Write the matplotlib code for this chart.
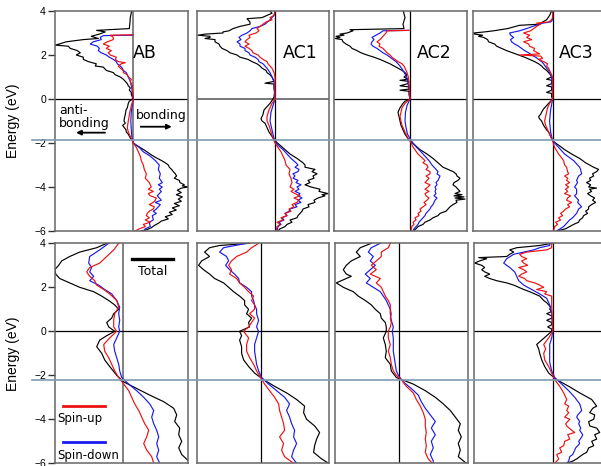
import numpy as np
import matplotlib
matplotlib.use("Agg")
import matplotlib.pyplot as plt
from matplotlib.lines import Line2D
from matplotlib import transforms

# ---- data: (energy eV, COHP-like value), per panel / curve ----
# top row
ab_top_total = [(4.0,-0.17),(3.7,-0.3),(3.5,-0.33),(3.2,-0.4),(3.12,-3.67),(3.05,-2.8),(2.95,-3.4),(2.85,-4.2),(2.75,-3.5),(2.7,-5.0),(2.6,-6.7),(2.5,-7.4),(2.45,-7.8),(2.4,-6.5),(2.3,-6.3),(2.2,-5.6),(2.1,-5.3),(2.0,-5.7),(1.9,-5.0),(1.8,-5.0),(1.7,-4.5),(1.6,-3.7),(1.5,-3.8),(1.45,-3.0),(1.3,-2.7),(1.2,-2.0),(1.1,-1.8),(1.0,-1.3),(0.9,-1.0),(0.8,-0.8),(0.7,-0.6),(0.6,-0.5),(0.5,-0.3),(0.4,-0.4),(0.3,-0.2),(0.2,-0.2),(0.1,-0.1),(0.0,-0.07),(-0.1,-0.4),(-0.2,-0.5),(-0.4,-0.6),(-0.5,-0.73),(-0.7,-0.8),(-0.9,-0.9),(-1.0,-0.93),(-1.1,-0.8),(-1.2,-1.07),(-1.3,-0.9),(-1.4,-0.73),(-1.5,-0.7),(-1.6,-0.5),(-1.8,-0.27),(-1.9,-0.1),(-2.0,0.0),(-2.1,0.3),(-2.2,0.67),(-2.35,1.2),(-2.5,1.67),(-2.65,2.2),(-2.8,2.83),(-2.9,3.2),(-3.0,3.5),(-3.1,3.6),(-3.2,3.83),(-3.3,4.0),(-3.4,4.2),(-3.5,4.33),(-3.6,4.1),(-3.7,4.6),(-3.8,4.67),(-3.9,5.1),(-3.95,4.9),(-4.0,5.5),(-4.05,4.8),(-4.15,4.4),(-4.25,4.8),(-4.35,4.3),(-4.45,4.9),(-4.55,4.5),(-4.65,4.8),(-4.75,4.1),(-4.85,4.6),(-4.95,3.9),(-5.05,4.3),(-5.15,3.6),(-5.25,3.9),(-5.35,3.2),(-5.45,3.5),(-5.55,2.8),(-5.65,2.5),(-5.75,2.1),(-5.85,1.8),(-5.95,1.3),(-6.0,0.8)]
ab_top_up = [(2.92,0.0),(2.9,-2.3),(2.8,-2.0),(2.7,-2.0),(2.6,-2.6),(2.5,-3.0),(2.4,-2.4),(2.3,-2.7),(2.2,-2.2),(2.1,-2.5),(2.0,-2.3),(1.9,-1.7),(1.8,-1.8),(1.7,-1.5),(1.65,-0.8),(1.6,-1.2),(1.5,-1.5),(1.4,-1.3),(1.3,-1.0),(1.2,-1.0),(1.1,-0.6),(1.0,-0.5),(0.9,-0.2),(0.8,-0.3),(0.6,-0.1),(0.3,-0.05),(0,0),(-0.3,-0.2),(-0.6,-0.35),(-1.0,-0.5),(-1.3,-0.6),(-1.5,-0.5),(-1.7,-0.3),(-1.9,-0.1),(-2.0,0.0),(-2.2,0.3),(-2.4,0.5),(-2.6,0.7),(-2.8,0.8),(-3.0,1.0),(-3.2,1.1),(-3.4,1.3),(-3.6,1.2),(-3.8,1.6),(-4.0,1.8),(-4.1,1.5),(-4.2,2.0),(-4.3,1.5),(-4.4,1.7),(-4.5,2.3),(-4.6,2.2),(-4.7,2.0),(-4.8,1.6),(-4.9,2.1),(-5.0,2.0),(-5.1,1.6),(-5.2,1.4),(-5.3,1.3),(-5.4,1.6),(-5.5,1.2),(-5.6,1.7),(-5.7,1.0),(-5.8,1.2),(-5.9,0.6),(-6.0,0.2)]
ab_top_down = [(2.9,-0.1),(2.88,-3.0),(2.8,-3.3),(2.7,-3.2),(2.6,-4.0),(2.5,-4.3),(2.4,-3.6),(2.3,-3.4),(2.2,-3.5),(2.1,-3.2),(2.0,-2.7),(1.9,-2.4),(1.8,-2.0),(1.7,-1.7),(1.6,-1.6),(1.5,-1.3),(1.4,-1.1),(1.3,-1.0),(1.2,-0.7),(1.0,-0.5),(0.8,-0.3),(0.5,-0.15),(0,0),(-0.3,-0.1),(-0.6,-0.2),(-1.0,-0.25),(-1.4,-0.2),(-1.7,-0.15),(-2.0,0.0),(-2.2,0.6),(-2.4,1.0),(-2.6,1.7),(-2.8,2.2),(-3.0,2.6),(-3.2,2.5),(-3.4,2.7),(-3.6,2.6),(-3.8,2.9),(-3.9,2.5),(-4.0,2.9),(-4.1,2.6),(-4.2,2.8),(-4.4,2.4),(-4.5,2.6),(-4.6,2.8),(-4.7,2.2),(-4.8,2.7),(-5.0,2.3),(-5.1,2.0),(-5.2,2.3),(-5.3,1.9),(-5.5,2.0),(-5.6,1.6),(-5.8,1.7),(-5.9,1.2),(-6.0,1.0)]

ac1_top_total = [(4.0,-0.5),(3.9,-0.3),(3.8,-0.8),(3.7,-1.3),(3.65,-2.8),(3.6,-2.7),(3.5,-2.5),(3.4,-2.5),(3.3,-3.5),(3.2,-4.2),(3.1,-4.6),(3.05,-5.2),(3.0,-5.2),(2.95,-7.0),(2.9,-7.7),(2.85,-6.5),(2.8,-6.5),(2.75,-7.0),(2.7,-6.0),(2.6,-6.0),(2.5,-5.6),(2.4,-5.5),(2.3,-5.3),(2.2,-4.8),(2.1,-4.5),(2.0,-3.8),(1.9,-3.5),(1.8,-2.7),(1.7,-2.3),(1.6,-1.8),(1.5,-1.5),(1.4,-1.3),(1.3,-0.9),(1.2,-0.8),(1.1,-0.5),(1.0,-0.3),(0.9,-0.2),(0.8,-0.1),(0.72,-1.0),(0.68,-0.1),(0.5,-0.1),(0.3,-0.05),(0.1,-0.1),(0.0,-0.2),(-0.2,-0.5),(-0.3,-0.7),(-0.5,-1.1),(-0.7,-1.2),(-0.9,-1.4),(-1.0,-1.3),(-1.1,-1.0),(-1.3,-0.8),(-1.5,-0.6),(-1.7,-0.3),(-1.9,0.0),(-2.1,0.5),(-2.3,1.0),(-2.5,1.5),(-2.7,2.2),(-2.9,2.8),(-3.0,3.0),(-3.1,3.0),(-3.2,4.0),(-3.3,3.7),(-3.4,4.2),(-3.5,3.8),(-3.6,3.9),(-3.7,3.3),(-3.8,3.5),(-3.9,3.0),(-4.0,3.6),(-4.1,4.5),(-4.2,4.4),(-4.3,5.3),(-4.35,4.7),(-4.4,5.0),(-4.5,4.3),(-4.6,3.9),(-4.7,4.0),(-4.8,3.3),(-4.9,3.4),(-5.0,2.8),(-5.1,2.7),(-5.2,2.5),(-5.3,2.3),(-5.4,2.2),(-5.5,1.5),(-5.6,1.7),(-5.7,1.2),(-5.8,1.0),(-5.9,0.5),(-6.0,0.3)]
ac1_top_up = [(4.0,0.0),(3.8,-0.1),(3.7,-0.5),(3.6,-0.3),(3.5,-0.9),(3.4,-1.2),(3.3,-1.5),(3.2,-1.8),(3.1,-1.6),(3.0,-1.9),(2.9,-2.6),(2.8,-2.5),(2.7,-2.8),(2.6,-3.0),(2.5,-2.6),(2.4,-3.0),(2.3,-2.6),(2.2,-2.3),(2.1,-2.2),(2.0,-1.7),(1.9,-1.5),(1.8,-1.2),(1.7,-0.8),(1.6,-0.7),(1.5,-0.5),(1.4,-0.3),(1.2,-0.1),(1.0,0.0),(0,0),(-0.2,-0.3),(-0.5,-0.6),(-0.8,-0.8),(-1.0,-0.8),(-1.2,-0.6),(-1.5,-0.4),(-1.8,-0.2),(-2.0,0.0),(-2.2,0.3),(-2.4,0.6),(-2.6,0.8),(-2.8,1.0),(-3.0,1.1),(-3.2,1.5),(-3.4,1.4),(-3.6,1.6),(-3.8,1.7),(-4.0,1.5),(-4.1,1.9),(-4.2,1.6),(-4.3,2.0),(-4.4,2.5),(-4.5,1.9),(-4.6,2.4),(-4.7,2.2),(-4.8,1.7),(-4.9,1.9),(-5.0,1.4),(-5.1,1.6),(-5.2,1.0),(-5.3,1.2),(-5.4,0.6),(-5.5,0.8),(-5.6,0.2),(-5.7,0.5),(-5.8,0.2),(-6.0,0.1)]
ac1_top_down = [(4.0,0.0),(3.8,-0.1),(3.6,-0.5),(3.4,-1.0),(3.3,-1.5),(3.2,-2.3),(3.1,-2.5),(3.0,-2.8),(2.9,-3.3),(2.8,-3.6),(2.7,-3.4),(2.6,-3.8),(2.5,-3.5),(2.4,-3.5),(2.3,-3.0),(2.2,-3.0),(2.1,-2.6),(2.0,-2.5),(1.9,-2.0),(1.8,-1.7),(1.7,-1.6),(1.6,-1.2),(1.5,-1.0),(1.4,-0.8),(1.2,-0.5),(1.0,-0.3),(0.8,-0.1),(0,0),(-0.3,-0.2),(-0.6,-0.4),(-1.0,-0.5),(-1.3,-0.35),(-1.6,-0.2),(-1.9,-0.05),(-2.1,0.3),(-2.3,0.8),(-2.5,1.2),(-2.7,1.6),(-2.9,2.1),(-3.0,2.3),(-3.1,2.0),(-3.2,2.4),(-3.3,2.3),(-3.4,1.8),(-3.5,2.0),(-3.6,1.8),(-3.7,2.3),(-3.8,2.1),(-3.9,2.6),(-4.0,2.2),(-4.1,2.4),(-4.2,2.0),(-4.3,2.5),(-4.4,2.3),(-4.5,2.7),(-4.6,2.3),(-4.7,2.6),(-4.8,2.0),(-4.9,2.2),(-5.0,1.5),(-5.1,1.4),(-5.2,1.0),(-5.3,1.2),(-5.4,0.7),(-5.5,0.9),(-5.6,0.4),(-5.7,0.6),(-5.8,0.3),(-6.0,0.2)]

ac2_top_total = [(4.0,-0.67),(3.7,-0.5),(3.4,-0.7),(3.2,-0.6),(3.15,-6.0),(3.1,-5.7),(3.0,-6.3),(2.95,-7.0),(2.9,-6.6),(2.85,-7.4),(2.8,-7.0),(2.75,-7.5),(2.7,-6.8),(2.6,-6.7),(2.5,-6.4),(2.4,-6.0),(2.3,-5.8),(2.2,-5.3),(2.1,-4.9),(2.0,-4.3),(1.9,-3.6),(1.8,-3.0),(1.7,-2.5),(1.6,-2.0),(1.5,-1.6),(1.4,-1.2),(1.3,-0.8),(1.2,-0.5),(1.1,-0.3),(1.0,-0.6),(0.9,-0.2),(0.85,-1.0),(0.8,-0.1),(0.7,-0.2),(0.6,-1.0),(0.55,-0.1),(0.45,-0.1),(0.4,-1.0),(0.35,-0.1),(0.2,-0.1),(0.0,0.0),(-0.1,-0.5),(-0.2,-0.7),(-0.4,-1.0),(-0.6,-1.2),(-0.8,-1.1),(-1.0,-1.0),(-1.2,-0.9),(-1.4,-0.7),(-1.6,-0.5),(-1.8,-0.2),(-1.9,0.0),(-2.1,0.5),(-2.3,1.0),(-2.5,1.7),(-2.7,2.3),(-2.9,2.8),(-3.1,3.3),(-3.3,4.3),(-3.4,4.6),(-3.5,4.7),(-3.6,5.0),(-3.7,4.8),(-3.8,4.4),(-3.9,4.3),(-4.0,4.6),(-4.1,4.8),(-4.2,5.0),(-4.3,4.5),(-4.35,5.2),(-4.4,4.4),(-4.45,5.4),(-4.5,4.5),(-4.55,5.5),(-4.6,4.6),(-4.7,4.7),(-4.8,4.3),(-4.9,4.0),(-5.0,3.8),(-5.1,3.6),(-5.2,3.0),(-5.3,2.8),(-5.4,2.3),(-5.5,2.0),(-5.6,1.5),(-5.7,1.3),(-5.8,0.8),(-5.9,0.6),(-6.0,0.3)]
ac2_top_up = [(3.12,-0.1),(3.1,-2.3),(3.0,-2.4),(2.9,-2.6),(2.8,-2.8),(2.7,-3.0),(2.6,-3.3),(2.5,-3.0),(2.4,-3.1),(2.3,-2.7),(2.2,-2.5),(2.1,-2.3),(2.0,-2.0),(1.9,-1.8),(1.8,-1.5),(1.7,-1.2),(1.6,-0.8),(1.5,-0.6),(1.4,-0.5),(1.2,-0.3),(1.0,-0.17),(0.5,-0.05),(0,0),(-0.2,-0.5),(-0.4,-0.8),(-0.6,-0.9),(-0.8,-1.0),(-1.0,-0.9),(-1.2,-0.8),(-1.4,-0.6),(-1.6,-0.4),(-1.8,-0.2),(-1.9,0.0),(-2.2,0.33),(-2.5,0.8),(-2.8,1.5),(-2.9,1.3),(-3.0,1.7),(-3.1,1.8),(-3.2,1.6),(-3.3,2.0),(-3.4,2.0),(-3.5,1.6),(-3.6,1.9),(-3.7,1.7),(-3.8,1.5),(-3.9,2.0),(-4.0,1.8),(-4.1,1.5),(-4.2,1.9),(-4.3,1.5),(-4.4,1.6),(-4.5,1.9),(-4.6,1.7),(-4.7,1.4),(-4.8,1.6),(-4.9,1.3),(-5.0,1.0),(-5.1,1.1),(-5.2,0.8),(-5.3,0.9),(-5.4,0.5),(-5.5,0.6),(-5.6,0.3),(-5.7,0.4),(-5.8,0.17),(-6.0,0.1)]
ac2_top_down = [(3.12,-0.1),(3.1,-2.7),(3.0,-3.0),(2.9,-3.4),(2.8,-3.8),(2.7,-3.6),(2.6,-3.8),(2.5,-3.9),(2.4,-3.7),(2.3,-3.3),(2.2,-3.0),(2.1,-2.7),(2.0,-2.3),(1.9,-2.0),(1.8,-1.7),(1.7,-1.4),(1.6,-1.2),(1.5,-1.0),(1.3,-0.7),(1.0,-0.33),(0.5,-0.1),(0,0),(-0.3,-0.3),(-0.6,-0.45),(-1.0,-0.5),(-1.3,-0.4),(-1.6,-0.25),(-1.8,0.0),(-2.0,0.3),(-2.2,0.67),(-2.4,1.1),(-2.6,1.5),(-2.8,1.9),(-3.0,2.2),(-3.2,2.6),(-3.3,2.8),(-3.4,2.7),(-3.5,3.0),(-3.6,2.9),(-3.7,2.8),(-3.8,2.6),(-3.9,2.7),(-4.0,2.5),(-4.1,2.6),(-4.2,2.5),(-4.3,2.6),(-4.4,2.4),(-4.5,2.7),(-4.6,2.5),(-4.7,2.4),(-4.8,2.3),(-4.9,2.1),(-5.0,2.0),(-5.1,1.8),(-5.2,1.6),(-5.3,1.5),(-5.4,1.3),(-5.5,1.1),(-5.6,0.9),(-5.7,0.8),(-5.8,0.6),(-5.9,0.4),(-6.0,0.33)]

ac3_top_total = [(4.0,-0.1),(3.8,-0.3),(3.6,-0.6),(3.5,-1.0),(3.4,-1.3),(3.35,-3.3),(3.3,-3.7),(3.2,-4.5),(3.1,-5.9),(3.05,-6.8),(3.0,-7.9),(2.95,-7.8),(2.9,-7.0),(2.85,-7.4),(2.8,-6.9),(2.7,-6.5),(2.6,-6.4),(2.5,-5.8),(2.4,-5.6),(2.3,-5.1),(2.2,-4.6),(2.1,-4.0),(2.0,-3.4),(1.9,-2.8),(1.8,-2.3),(1.7,-1.8),(1.6,-1.4),(1.5,-1.1),(1.4,-0.9),(1.3,-0.6),(1.2,-0.4),(1.1,-0.2),(1.0,-0.1),(0.9,-0.6),(0.85,-0.1),(0.7,-0.1),(0.6,-0.6),(0.55,-0.1),(0.4,-0.1),(0.3,-0.6),(0.25,-0.1),(0.1,-0.1),(0.0,0.0),(-0.15,-0.3),(-0.3,-0.6),(-0.45,-0.9),(-0.6,-1.1),(-0.7,-1.2),(-0.8,-1.4),(-0.9,-1.3),(-1.0,-1.1),(-1.2,-0.9),(-1.4,-0.6),(-1.5,-0.4),(-1.7,-0.2),(-1.8,-0.1),(-1.9,0.0),(-2.1,0.6),(-2.3,1.2),(-2.5,1.9),(-2.7,2.7),(-2.9,3.3),(-3.0,3.7),(-3.1,4.1),(-3.2,4.6),(-3.3,4.4),(-3.4,4.0),(-3.5,4.1),(-3.6,3.7),(-3.7,3.8),(-3.8,3.4),(-3.9,3.8),(-4.0,3.6),(-4.05,4.4),(-4.1,3.7),(-4.2,3.9),(-4.3,3.5),(-4.4,3.8),(-4.5,4.2),(-4.6,4.0),(-4.7,4.3),(-4.8,3.9),(-4.9,3.6),(-5.0,3.6),(-5.1,3.3),(-5.2,3.5),(-5.3,3.1),(-5.4,3.0),(-5.5,2.7),(-5.6,2.6),(-5.7,2.1),(-5.8,1.7),(-5.9,1.3),(-6.0,0.4)]
ac3_top_up = [(4.0,0),(3.7,0),(3.6,-0.1),(3.5,-0.4),(3.45,-1.6),(3.4,-1.2),(3.3,-1.6),(3.2,-1.9),(3.1,-2.2),(3.0,-2.9),(2.9,-2.3),(2.8,-2.6),(2.7,-2.1),(2.6,-2.9),(2.5,-2.4),(2.4,-2.3),(2.3,-1.8),(2.2,-1.9),(2.1,-1.5),(2.05,-1.3),(2.0,-3.3),(1.95,-1.2),(1.85,-1.0),(1.8,-1.4),(1.7,-0.9),(1.6,-0.5),(1.5,-0.6),(1.4,-0.4),(1.3,-0.3),(1.2,-0.2),(1.0,0),(0,0),(-0.2,-0.3),(-0.4,-0.5),(-0.6,-0.6),(-0.8,-0.7),(-1.0,-0.8),(-1.2,-0.7),(-1.5,-0.4),(-1.7,-0.2),(-1.9,0.0),(-2.2,0.2),(-2.5,0.6),(-2.8,1.1),(-3.0,1.2),(-3.1,1.4),(-3.3,1.5),(-3.4,1.6),(-3.5,1.2),(-3.6,1.5),(-3.7,1.4),(-3.8,1.7),(-3.9,1.3),(-4.0,1.6),(-4.1,1.3),(-4.2,1.5),(-4.3,1.2),(-4.4,1.8),(-4.5,1.5),(-4.6,1.4),(-4.7,1.9),(-4.8,1.5),(-4.9,1.7),(-5.0,1.3),(-5.1,1.1),(-5.2,0.8),(-5.3,1.0),(-5.4,0.6),(-5.5,0.8),(-5.6,0.3),(-5.7,0.5),(-5.8,0.2),(-6.0,0.1)]
ac3_top_down = [(4.0,0),(3.6,0),(3.5,-0.2),(3.45,-1.0),(3.4,-1.3),(3.3,-2.0),(3.2,-2.6),(3.1,-3.3),(3.0,-4.3),(2.9,-4.2),(2.8,-3.9),(2.7,-4.2),(2.6,-4.1),(2.5,-3.8),(2.4,-3.4),(2.3,-3.1),(2.2,-2.8),(2.1,-2.4),(2.0,-2.1),(1.9,-1.7),(1.8,-1.4),(1.7,-1.1),(1.6,-0.9),(1.4,-0.6),(1.3,-0.4),(1.0,-0.1),(0,0),(-0.5,-0.2),(-1.0,-0.3),(-1.5,-0.2),(-1.9,0.0),(-2.2,0.6),(-2.5,1.2),(-2.8,2.1),(-3.0,2.5),(-3.1,2.7),(-3.2,2.8),(-3.4,2.9),(-3.5,2.6),(-3.7,2.4),(-3.8,2.5),(-4.0,2.2),(-4.1,2.4),(-4.3,2.4),(-4.4,2.2),(-4.6,2.6),(-4.7,2.5),(-4.9,2.9),(-5.0,2.6),(-5.2,2.4),(-5.4,2.0),(-5.5,1.7),(-5.7,1.3),(-5.8,1.1),(-6.0,0.4)]

# bottom row
ab_bot_total = [(4.0,-1.6),(3.8,-2.6),(3.6,-4.3),(3.4,-5.3),(3.2,-6.1),(3.0,-6.4),(2.8,-6.8),(2.6,-6.7),(2.4,-6.3),(2.2,-5.3),(2.0,-4.3),(1.8,-2.9),(1.6,-2.1),(1.4,-1.4),(1.2,-0.8),(1.0,-0.4),(0.8,-0.9),(0.6,-1.1),(0.4,-1.6),(0.2,-1.4),(0.0,-0.8),(-0.2,-1.6),(-0.4,-2.3),(-0.7,-2.6),(-1.0,-2.1),(-1.3,-1.8),(-1.6,-1.3),(-2.0,-0.6),(-2.3,0.1),(-2.6,1.4),(-2.9,2.7),(-3.2,4.1),(-3.5,5.1),(-3.8,5.4),(-4.1,5.2),(-4.4,5.7),(-4.7,5.6),(-5.0,5.9),(-5.3,5.6),(-5.6,5.9),(-5.9,6.6),(-6.0,6.7)]
ab_bot_up = [(4.0,-0.4),(3.7,-0.9),(3.4,-1.6),(3.1,-2.3),(2.9,-3.3),(2.7,-3.6),(2.5,-3.3),(2.3,-2.8),(2.1,-2.6),(1.9,-1.9),(1.7,-1.3),(1.4,-0.6),(1.1,-0.4),(0.8,-0.8),(0.5,-0.9),(0.2,-0.9),(0.0,-0.6),(-0.3,-1.3),(-0.6,-1.9),(-0.9,-1.8),(-1.2,-1.4),(-1.5,-1.1),(-1.8,-0.8),(-2.1,-0.4),(-2.4,0.1),(-2.7,0.6),(-3.0,0.9),(-3.3,1.2),(-3.6,1.6),(-3.9,1.9),(-4.2,2.2),(-4.5,2.6),(-4.8,2.4),(-5.1,2.1),(-5.4,2.4),(-5.7,2.9),(-6.0,3.1)]
ab_bot_down = [(4.0,-1.4),(3.7,-2.3),(3.4,-3.3),(3.1,-3.4),(2.9,-3.1),(2.7,-3.3),(2.5,-2.9),(2.3,-3.3),(2.1,-2.4),(1.9,-1.8),(1.7,-1.1),(1.4,-0.6),(1.1,-0.3),(0.8,-0.4),(0.5,-0.3),(0.2,-0.4),(0.0,-0.3),(-0.3,-0.6),(-0.6,-0.9),(-0.9,-0.8),(-1.2,-0.6),(-1.5,-0.4),(-1.8,-0.3),(-2.1,-0.1),(-2.4,0.6),(-2.7,1.4),(-3.0,2.1),(-3.3,2.7),(-3.6,3.1),(-3.9,2.9),(-4.2,3.1),(-4.5,3.4),(-4.8,3.6),(-5.1,3.4),(-5.4,3.6),(-5.7,3.4),(-6.0,3.7)]

ac1_bot_total = [(4.0,-1.1),(3.9,-4.1),(3.8,-5.1),(3.6,-5.6),(3.4,-5.1),(3.2,-5.9),(3.0,-6.2),(2.8,-5.7),(2.6,-5.1),(2.4,-4.6),(2.2,-3.7),(2.0,-3.2),(1.8,-2.7),(1.6,-2.1),(1.4,-1.6),(1.2,-1.6),(1.0,-1.2),(0.8,-1.4),(0.6,-0.9),(0.4,-1.2),(0.2,-1.1),(0.0,-2.1),(-0.2,-1.9),(-0.4,-2.1),(-0.7,-1.9),(-1.0,-1.9),(-1.3,-1.7),(-1.6,-1.2),(-1.9,-0.6),(-2.2,0.3),(-2.5,1.4),(-2.8,2.6),(-3.1,3.6),(-3.4,4.4),(-3.7,4.3),(-4.0,4.6),(-4.3,5.4),(-4.6,5.9),(-4.9,5.6),(-5.2,5.4),(-5.5,5.3),(-5.8,6.1),(-6.0,6.8)]
ac1_bot_up = [(4.0,-0.2),(3.8,-0.9),(3.6,-1.4),(3.4,-2.4),(3.2,-2.9),(3.0,-3.2),(2.8,-2.9),(2.6,-3.1),(2.4,-2.4),(2.2,-2.1),(2.0,-1.6),(1.8,-1.2),(1.6,-0.7),(1.4,-0.9),(1.2,-0.6),(1.0,-0.6),(0.8,-1.1),(0.6,-0.6),(0.4,-0.9),(0.2,-1.2),(0.0,-1.7),(-0.3,-1.2),(-0.6,-1.4),(-0.9,-1.4),(-1.2,-1.1),(-1.5,-0.7),(-1.8,-0.4),(-2.1,0.0),(-2.4,0.4),(-2.7,0.9),(-3.0,1.4),(-3.3,1.8),(-3.6,1.9),(-3.9,2.1),(-4.2,2.3),(-4.5,2.4),(-4.8,1.9),(-5.1,2.3),(-5.4,2.1),(-5.7,2.4),(-6.0,3.3)]
ac1_bot_down = [(4.0,-1.4),(3.8,-3.7),(3.6,-4.1),(3.4,-3.4),(3.2,-3.2),(3.0,-3.5),(2.8,-3.1),(2.6,-2.6),(2.4,-2.2),(2.2,-2.1),(2.0,-1.4),(1.8,-0.9),(1.6,-0.9),(1.4,-0.7),(1.2,-0.6),(1.0,-0.4),(0.8,-0.4),(0.5,-0.2),(0.2,-0.4),(0.0,-0.2),(-0.3,-0.4),(-0.6,-0.6),(-0.9,-0.6),(-1.2,-0.5),(-1.5,-0.4),(-1.8,-0.2),(-2.1,0.1),(-2.4,0.8),(-2.7,1.6),(-3.0,2.4),(-3.3,2.9),(-3.6,2.6),(-3.9,2.9),(-4.2,3.1),(-4.5,3.4),(-4.8,3.3),(-5.1,3.6),(-5.4,3.3),(-5.7,3.1),(-6.0,3.6)]

ac2_bot_total = [(4.0,-2.8),(3.8,-3.9),(3.6,-4.3),(3.4,-3.9),(3.2,-4.8),(3.0,-5.3),(2.8,-5.6),(2.6,-5.3),(2.5,-4.8),(2.4,-5.3),(2.2,-6.3),(2.0,-5.6),(1.8,-4.6),(1.6,-4.1),(1.4,-3.4),(1.2,-2.8),(1.0,-2.4),(0.8,-1.9),(0.6,-1.8),(0.4,-1.4),(0.2,-1.3),(0.0,-1.3),(-0.3,-1.6),(-0.6,-1.4),(-0.9,-1.3),(-1.2,-1.4),(-1.5,-0.9),(-1.8,-0.8),(-2.1,-0.3),(-2.4,1.4),(-2.7,2.6),(-3.0,3.6),(-3.3,4.4),(-3.6,5.1),(-3.9,5.6),(-4.2,6.1),(-4.5,5.9),(-4.8,6.2),(-5.1,5.9),(-5.4,6.1),(-5.7,5.9),(-6.0,6.7)]
ac2_bot_up = [(4.0,-0.9),(3.8,-1.1),(3.6,-1.8),(3.4,-1.8),(3.2,-2.3),(3.0,-2.8),(2.8,-2.3),(2.6,-2.9),(2.4,-1.9),(2.2,-2.3),(2.0,-1.8),(1.8,-1.6),(1.6,-1.4),(1.4,-1.1),(1.2,-0.9),(1.0,-0.9),(0.8,-0.8),(0.6,-0.9),(0.4,-0.8),(0.2,-0.9),(0.0,-1.1),(-0.3,-1.1),(-0.6,-0.9),(-0.9,-1.1),(-1.2,-0.9),(-1.5,-0.8),(-1.8,-0.6),(-2.0,-0.3),(-2.2,0.2),(-2.5,0.7),(-2.8,1.4),(-3.1,1.7),(-3.4,2.1),(-3.7,2.4),(-4.0,2.6),(-4.3,2.6),(-4.6,2.7),(-4.9,2.6),(-5.2,2.7),(-5.5,2.6),(-5.8,2.9),(-6.0,3.3)]
ac2_bot_down = [(4.0,-1.9),(3.8,-2.8),(3.6,-3.1),(3.4,-2.6),(3.2,-2.9),(3.0,-2.4),(2.8,-2.9),(2.6,-3.4),(2.4,-2.9),(2.2,-3.3),(2.0,-2.6),(1.8,-1.9),(1.6,-1.6),(1.4,-1.3),(1.2,-1.1),(1.0,-0.9),(0.8,-0.9),(0.5,-0.8),(0.2,-0.6),(0.0,-0.7),(-0.3,-0.6),(-0.6,-0.6),(-0.9,-0.6),(-1.2,-0.5),(-1.5,-0.4),(-1.8,-0.3),(-2.0,-0.1),(-2.3,0.4),(-2.6,1.2),(-2.9,1.9),(-3.2,2.2),(-3.5,2.6),(-3.8,3.1),(-4.1,3.6),(-4.4,3.2),(-4.7,3.6),(-5.0,3.2),(-5.3,3.4),(-5.6,3.1),(-5.9,3.4),(-6.0,3.4)]

ac3_bot_total = [(4.0,-0.1),(3.9,-1.3),(3.8,-3.6),(3.7,-4.3),(3.6,-3.9),(3.5,-4.3),(3.4,-4.6),(3.35,-7.4),(3.3,-6.6),(3.2,-7.3),(3.1,-7.8),(3.0,-7.1),(2.9,-6.8),(2.8,-7.1),(2.7,-6.8),(2.6,-6.3),(2.5,-6.8),(2.4,-6.3),(2.3,-5.6),(2.2,-4.6),(2.1,-3.9),(2.0,-3.4),(1.9,-2.9),(1.8,-2.3),(1.7,-1.8),(1.6,-1.3),(1.5,-1.1),(1.4,-0.9),(1.3,-0.6),(1.2,-0.4),(1.1,-0.2),(1.0,-0.3),(0.9,-0.1),(0.8,-0.6),(0.7,-0.1),(0.6,-0.1),(0.5,-0.6),(0.4,-0.1),(0.3,-0.1),(0.2,-0.5),(0.1,-0.1),(0.0,-0.1),(-0.2,-0.6),(-0.4,-1.1),(-0.6,-1.6),(-0.8,-1.4),(-1.0,-1.3),(-1.3,-1.1),(-1.6,-0.8),(-1.9,-0.4),(-2.2,0.4),(-2.5,1.6),(-2.8,2.7),(-3.1,3.9),(-3.4,4.4),(-3.5,4.0),(-3.7,3.7),(-3.8,4.2),(-4.0,4.1),(-4.1,3.6),(-4.3,3.7),(-4.4,4.4),(-4.6,4.7),(-4.7,4.2),(-4.9,4.4),(-5.0,3.9),(-5.2,4.1),(-5.3,3.6),(-5.5,3.4),(-5.6,3.0),(-5.8,2.4),(-5.9,2.0),(-6.0,1.4)]
ac3_bot_up = [(4.0,-0.1),(3.8,-0.1),(3.7,-0.6),(3.6,-2.6),(3.5,-3.3),(3.4,-3.1),(3.3,-2.6),(3.2,-3.1),(3.1,-2.9),(3.0,-2.5),(2.9,-3.4),(2.8,-2.9),(2.7,-2.6),(2.6,-3.1),(2.5,-3.4),(2.4,-2.8),(2.3,-2.6),(2.2,-1.8),(2.1,-1.3),(2.0,-0.9),(1.9,-1.6),(1.8,-0.6),(1.7,-0.8),(1.6,-0.1),(1.2,-0.1),(0.0,0.0),(-0.3,-0.4),(-0.6,-0.9),(-0.8,-0.7),(-1.0,-0.9),(-1.3,-0.8),(-1.6,-0.4),(-1.9,-0.1),(-2.2,0.2),(-2.5,0.7),(-2.8,1.1),(-3.1,1.4),(-3.3,1.2),(-3.4,1.6),(-3.6,1.4),(-3.7,1.6),(-3.9,1.2),(-4.0,1.7),(-4.2,1.3),(-4.3,1.4),(-4.5,1.9),(-4.6,2.2),(-4.7,1.5),(-4.9,1.7),(-5.0,1.2),(-5.2,1.1),(-5.3,0.7),(-5.5,0.9),(-5.6,0.4),(-5.8,0.6),(-6.0,0.2)]
ac3_bot_down = [(4.0,-0.3),(3.9,-0.3),(3.8,-1.3),(3.7,-1.9),(3.5,-3.9),(3.3,-4.6),(3.1,-4.9),(2.9,-4.3),(2.7,-3.8),(2.5,-3.6),(2.3,-3.4),(2.1,-2.9),(1.9,-2.1),(1.7,-1.3),(1.5,-0.6),(1.2,-0.3),(0.8,-0.1),(0.0,0.0),(-0.3,-0.1),(-0.6,-0.3),(-1.0,-0.3),(-1.4,-0.3),(-1.8,-0.1),(-2.1,0.2),(-2.4,0.9),(-2.7,1.6),(-3.0,2.2),(-3.3,2.7),(-3.6,2.9),(-3.8,2.5),(-3.9,2.4),(-4.1,2.7),(-4.2,2.6),(-4.4,2.8),(-4.5,2.7),(-4.7,3.0),(-4.8,2.9),(-5.0,2.6),(-5.1,2.7),(-5.3,2.3),(-5.4,2.2),(-5.6,2.0),(-5.7,1.7),(-5.9,1.6),(-6.0,1.4)]

panel_names = ["AB", "AC1", "AC2", "AC3"]
top_curves = [(ab_top_total, ab_top_up, ab_top_down), (ac1_top_total, ac1_top_up, ac1_top_down),
              (ac2_top_total, ac2_top_up, ac2_top_down), (ac3_top_total, ac3_top_up, ac3_top_down)]
bot_curves = [(ab_bot_total, ab_bot_up, ab_bot_down), (ac1_bot_total, ac1_bot_up, ac1_bot_down),
              (ac2_bot_total, ac2_bot_up, ac2_bot_down), (ac3_bot_total, ac3_bot_up, ac3_bot_down)]
# energy of the grey-blue marker line in each row
row_marker = [-1.86, -2.21]
energy_ticks = [-6, -4, -2, 0, 2, 4]

# ---- layout (pixels of a 601x466 canvas) ----
W, H = 601.0, 466.0
top_left_px = [55, 196.7, 334.3, 473.3]
bot_left_px = [55, 197.3, 335, 474]
top_xlim = [(-7.83, 5.5), (-7.83, 5.4), (-7.57, 5.73), (-7.93, 5.4)]
bot_xlim = [(-6.77, 6.57), (-6.33, 6.83), (-6.43, 6.9), (-7.87, 5.4)]
row_px = [(11, 231), (243.3, 463.3)]   # top, bottom of each row

C_TOT, C_UP, C_DN = "black", "#ee1111", "#1a1aee"
SPINE = "#666666"

plt.rcParams['font.family'] = ['DejaVu Sans']
fig = plt.figure(figsize=(6.01, 4.66), dpi=100)

axes = [[], []]
for r, (lefts, xlims, curves) in enumerate([(top_left_px, top_xlim, top_curves),
                                            (bot_left_px, bot_xlim, bot_curves)]):
    ytop, ybot = row_px[r]
    for c in range(4):
        x0, x1 = xlims[c]
        wpx = (x1 - x0) * 10.0
        ax = fig.add_axes([lefts[c] / W, (H - ybot) / H, wpx / W, (ybot - ytop) / H])
        ax.set_xlim(x0, x1)
        ax.set_ylim(-6, 4)
        # zero lines
        vcol, vlw = ("#777777", 1.3) if c == 0 else ("black", 0.9)
        hcol, hlw = ("#777777", 1.4) if (r == 0 and c == 1) else ("black", 0.9)
        ax.axvline(0, color=vcol, lw=vlw, zorder=1)
        ax.axhline(0, color=hcol, lw=hlw, zorder=1)
        tot, up, dn = curves[c]
        for data, col in [(tot, C_TOT), (dn, C_DN), (up, C_UP)]:
            arr = np.array(data)
            ax.plot(arr[:, 1], arr[:, 0], color=col, lw=0.85, zorder=2)
        for sp in ax.spines.values():
            sp.set_color(SPINE)
            sp.set_linewidth(1.1)
        if c == 3:
            ax.spines['right'].set_visible(False)
        ax.set_xticks([])
        if c == 0:
            ax.set_yticks(energy_ticks)
            ax.set_yticklabels(["\u2212%d" % -t if t < 0 else "%d" % t for t in energy_ticks],
                               family="Liberation Sans", fontsize=7.5)
            ax.tick_params(axis='y', direction='out', length=5, width=1, color="#333333", pad=1.5)
        else:
            ax.set_yticks([])
        axes[r].append(ax)

# panel labels
label_x = [0.675, 0.78, 0.75, 0.772]
for c, name in enumerate(panel_names):
    axes[0][c].text(label_x[c], 0.81, name, transform=axes[0][c].transAxes,
                    ha="center", va="center", fontsize=12.5)

# y labels
for r in range(2):
    ytop, ybot = row_px[r]
    fig.text(13 / W, 1 - (ytop + ybot) / 2 / H, "Energy (eV)", rotation=90,
             ha="center", va="center", family="Liberation Sans", fontsize=10)

# grey-blue marker lines across the whole figure
for r in range(2):
    tr = transforms.blended_transform_factory(fig.transFigure, axes[r][0].transData)
    fig.add_artist(Line2D([32 / W, 1.0], [row_marker[r], row_marker[r]], transform=tr,
                          color="#7f9bb3", lw=1.2, zorder=10))

# bonding annotations (top AB)
ax = axes[0][0]
ax.text(0.03, 0.518, "anti-\nbonding", transform=ax.transAxes, ha="left", va="center",
        fontsize=9, linespacing=1.05)
ax.text(0.608, 0.524, "bonding", transform=ax.transAxes, ha="left", va="center", fontsize=9)
ax.annotate("", xy=(0.158, 0.447), xytext=(0.375, 0.447), xycoords="axes fraction",
            arrowprops=dict(arrowstyle="-|>", color="black", lw=1.3, mutation_scale=7,
                            shrinkA=0, shrinkB=0))
ax.annotate("", xy=(0.876, 0.474), xytext=(0.643, 0.474), xycoords="axes fraction",
            arrowprops=dict(arrowstyle="-|>", color="black", lw=1.3, mutation_scale=7,
                            shrinkA=0, shrinkB=0))

# legend (bottom AB)
ax = axes[1][0]
ax.plot([0.578, 0.885], [0.929, 0.929], transform=ax.transAxes, color=C_TOT, lw=2.4)
ax.text(0.73, 0.871, "Total", transform=ax.transAxes, ha="center", va="center", fontsize=9)
ax.plot([0.06, 0.375], [0.262, 0.262], transform=ax.transAxes, color=C_UP, lw=2.0)
ax.text(0.015, 0.205, "Spin-up", transform=ax.transAxes, ha="left", va="center", fontsize=8.5)
ax.plot([0.06, 0.375], [0.095, 0.095], transform=ax.transAxes, color=C_DN, lw=2.0)
ax.text(0.015, 0.035, "Spin-down", transform=ax.transAxes, ha="left", va="center", fontsize=8.5)

fig.savefig("out.png", dpi=100)
